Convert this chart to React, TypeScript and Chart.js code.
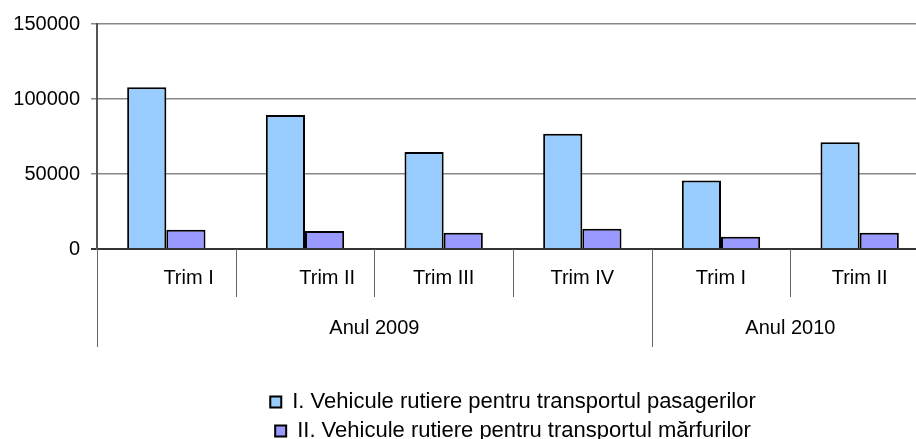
import { useEffect, useRef } from 'react';
import { Chart, registerables } from 'chart.js';

Chart.register(...registerables);

// ---- data ----
const quarterLabels = ['        Trim I', '        Trim II', 'Trim III', 'Trim IV', 'Trim I', 'Trim II'];
const yearLabels = ['Anul 2009', 'Anul 2010'];
const yearSpans = [4, 2];
const passengerVehicles = [107800, 89300, 64600, 76800, 45700, 71200];
const goodsVehicles = [12900, 12000, 10800, 13500, 8100, 10800];
const seriesNames = [
  'I. Vehicule rutiere pentru transportul pasagerilor',
  'II. Vehicule rutiere pentru transportul mărfurilor',
];
const yTicks = [0, 50000, 100000, 150000];

const FONT = "'Liberation Sans', Arial, sans-serif";
const CANVAS_W = 940;
const CANVAS_H = 452;

const groupAxisPlugin = {
  id: 'groupAxis',
  afterDraw(chart: any) {
    const x = chart.scales.x;
    const { ctx, chartArea } = chart;
    const n = quarterLabels.length;
    const step = x.getPixelForValue(1) - x.getPixelForValue(0);
    const boundary = (i: number) =>
      i < n ? x.getPixelForValue(i) - step / 2 : x.getPixelForValue(n - 1) + step / 2;
    const b = chartArea.bottom;
    const outer = new Set<number>();
    let acc = 0;
    outer.add(0);
    yearSpans.forEach((s) => {
      acc += s;
      outer.add(acc);
    });
    ctx.save();
    ctx.strokeStyle = '#666';
    ctx.lineWidth = 1;
    for (let i = 0; i <= n; i++) {
      const px = Math.round(boundary(i)) + 0.5;
      ctx.beginPath();
      ctx.moveTo(px, b);
      ctx.lineTo(px, b + (outer.has(i) ? 98 : 48));
      ctx.stroke();
    }
    ctx.fillStyle = '#000';
    ctx.font = `20px ${FONT}`;
    ctx.textAlign = 'center';
    ctx.textBaseline = 'middle';
    let start = 0;
    yearLabels.forEach((lab, k) => {
      const end = start + yearSpans[k];
      const cx = (boundary(start) + boundary(end)) / 2;
      ctx.fillText(lab, cx, b + 79);
      start = end;
    });
    ctx.restore();
  },
};

export default function App() {
  const ref = useRef<HTMLCanvasElement | null>(null);

  useEffect(() => {
    if (!ref.current) return;
    const chart = new Chart(ref.current, {
      type: 'bar',
      data: {
        labels: quarterLabels,
        datasets: [
          {
            label: seriesNames[0],
            data: passengerVehicles,
            backgroundColor: '#99CCFF',
            borderColor: '#000000',
            borderWidth: 2,
          },
          {
            label: seriesNames[1],
            data: goodsVehicles,
            backgroundColor: '#9999FF',
            borderColor: '#000000',
            borderWidth: 2,
          },
        ],
      },
      options: {
        responsive: false,
        devicePixelRatio: 1,
        animation: false,
        datasets: { bar: { categoryPercentage: 0.565, barPercentage: 1 } },
        layout: { padding: { left: 0, top: 24, right: CANVAS_W - 929, bottom: 0 } },
        plugins: {
          tooltip: { enabled: false },
          legend: {
            position: 'bottom',
            fullSize: false,
            labels: {
              color: '#000',
              font: { family: FONT, size: 22 },
              boxWidth: 11,
              boxHeight: 11,
              padding: 7,
            },
          },
        },
        scales: {
          x: {
            grid: { display: false, drawTicks: false },
            border: { display: false },
            ticks: {
              color: '#000',
              font: { family: FONT, size: 20 },
              padding: 17,
              maxRotation: 0,
              autoSkip: false,
            },
            afterFit: (s: any) => {
              s.height = 135;
            },
          },
          y: {
            min: 0,
            max: 150000,
            afterBuildTicks: (s: any) => {
              s.ticks = yTicks.map((v) => ({ value: v }));
            },
            ticks: {
              color: '#000',
              font: { family: FONT, size: 20 },
              padding: 11,
              callback: (v: any) => String(v),
            },
            grid: {
              color: (c: any) => (c.tick && c.tick.value === 0 ? '#333' : '#888'),
              lineWidth: (c: any) => (c.tick && c.tick.value === 0 ? 2 : 1.5),
              tickLength: 6,
            },
            border: { display: true, color: '#555', width: 2 },
            afterFit: (s: any) => {
              s.width = 97;
            },
          },
        },
      },
      plugins: [groupAxisPlugin],
    } as any);
    return () => chart.destroy();
  }, []);

  return (
    <div style={{ position: 'fixed', left: 0, top: 0, width: 916, height: 439, overflow: 'hidden', background: '#fff' }}>
      <canvas ref={ref} width={CANVAS_W} height={CANVAS_H} style={{ width: CANVAS_W, height: CANVAS_H, display: 'block' }} />
    </div>
  );
}
